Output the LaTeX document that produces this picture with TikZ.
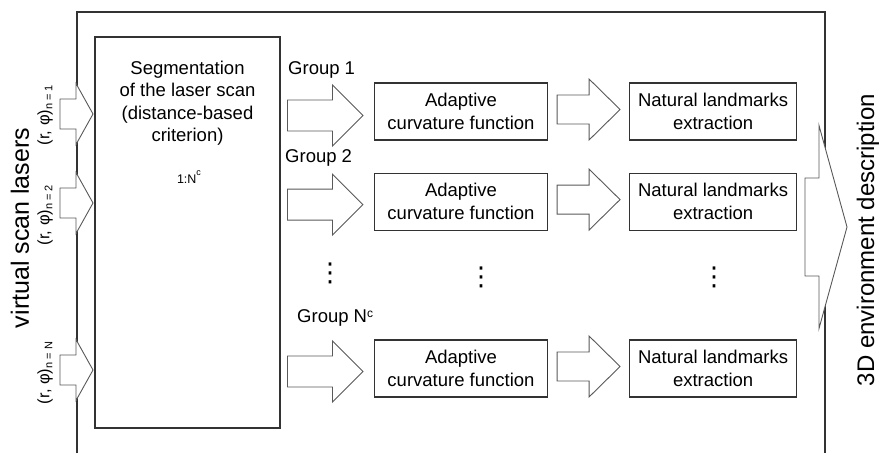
\documentclass[tikz,border=0pt]{standalone}
\usepackage{fontspec}
\setmainfont{Liberation Sans}
\newfontfamily\symbfont{DejaVu Sans}
\usetikzlibrary{positioning}

\begin{document}
\begin{tikzpicture}[
x=1pt, y=-1pt,
txt/.style={font=\fontsize{18.5}{22.5}\selectfont},
proc/.style={draw=black!80, line width=1.1pt, minimum width=173pt, minimum height=57pt, inner sep=0pt, align=center, txt},
fat/.pic={\draw[draw=black!65, fill=white, line width=0.9pt, line join=miter] (-\len,-\shaft) -- (-\head,-\shaft) -- (-\head,-\wide) -- (0,0) -- (-\head,\wide) -- (-\head,\shaft) -- (-\len,\shaft) -- cycle;},
fatsize/.style args={#1/#2/#3/#4}{/utils/exec={\def\len{#1}\def\shaft{#2}\def\wide{#3}\def\head{#4}}},
sidelabel/.style={rotate=90, font=\fontsize{16.5}{18}\selectfont},
dotsym/.style={font=\symbfont\fontsize{26}{26}\selectfont, inner sep=0pt}
]
\useasboundingbox (0,0) rectangle (880,453);
\draw[draw=black!80, line width=1.1pt] (77,453) -- (77,12) -- (825,12) -- (825,453);

\node[draw=black!80, line width=1.1pt, minimum width=185pt, minimum height=391pt] (seg) at (187.5,232.5) {};
\node[txt, align=center, inner sep=0pt, below=24pt of seg.north] (segtxt) {Segmentation\\of the laser scan\\(distance-based\\criterion)};
\node[font=\fontsize{12.5}{15}\selectfont] (count) at (189,177) {1:N\raisebox{8pt}{\fontsize{9}{9}\selectfont c}};

\pic[fatsize=33/15/30.5/17] (in1) at (93,114) {fat};
\pic[fatsize=33/15/30.5/17] (in2) at (93,203) {fat};
\pic[fatsize=33/15/30.5/17] (in3) at (93,370) {fat};
\node[sidelabel] (ray1) at (45,115) {(r, φ)\raisebox{-3pt}{\fontsize{11}{11}\selectfont n = 1}};
\node[sidelabel] (ray2) at (45,215) {(r, φ)\raisebox{-3pt}{\fontsize{11}{11}\selectfont n = 2}};
\node[sidelabel] (rayN) at (45,373) {(r, φ)\raisebox{-3pt}{\fontsize{11}{11}\selectfont n = N}};
\node[rotate=90, font=\fontsize{25}{30}\selectfont] (lasers) at (20,228) {virtual scan lasers};

\node[proc] (ada1) at (461,111.5) {Adaptive\\curvature function};
\node[proc, below=32pt of ada1] (ada2) {Adaptive\\curvature function};
\node[proc] (ada3) at (461,368.5) {Adaptive\\curvature function};
\node[proc, minimum width=167pt, right=81pt of ada1] (nat1) {Natural landmarks\\extraction};
\node[proc, minimum width=167pt, right=81pt of ada2] (nat2) {Natural landmarks\\extraction};
\node[proc, minimum width=167pt, right=81pt of ada3] (nat3) {Natural landmarks\\extraction};

\pic[fatsize=75.5/15.5/30.5/30.5] (grp1) at ([xshift=-11pt, yshift=-4pt]ada1.west) {fat};
\pic[fatsize=75.5/15.5/30.5/30.5] (grp2) at ([xshift=-11pt, yshift=-3pt]ada2.west) {fat};
\pic[fatsize=75.5/15.5/30.5/30.5] (grp3) at ([xshift=-11pt, yshift=-3pt]ada3.west) {fat};
\pic[fatsize=63/14.5/30.5/31] (nxt1) at ([xshift=-9pt, yshift=2pt]nat1.west) {fat};
\pic[fatsize=63/14.5/30.5/31] (nxt2) at ([xshift=-9pt, yshift=2pt]nat2.west) {fat};
\pic[fatsize=63/14.5/30.5/31] (nxt3) at ([xshift=-9pt, yshift=2pt]nat3.west) {fat};

\node[txt, anchor=west, inner sep=0pt] (lbl1) at (288,70) {Group 1};
\node[txt, anchor=west, inner sep=0pt] (lbl2) at (285,158) {Group 2};
\node[txt, anchor=west, inner sep=0pt] (lblN) at (297,318) {Group N\raisebox{5pt}{\fontsize{12}{12}\selectfont c}};

\node[dotsym] (dots1) at (330,273) {⋮};
\node[dotsym] (dots2) at (481,277) {⋮};
\node[dotsym] (dots3) at (714,277) {⋮};

\pic[fatsize=42/49/101.5/28] (out) at (847,227) {fat};
\node[rotate=90, font=\fontsize{24}{28}\selectfont] (env) at (868,240) {3D environment description};
\end{tikzpicture}
\end{document}
